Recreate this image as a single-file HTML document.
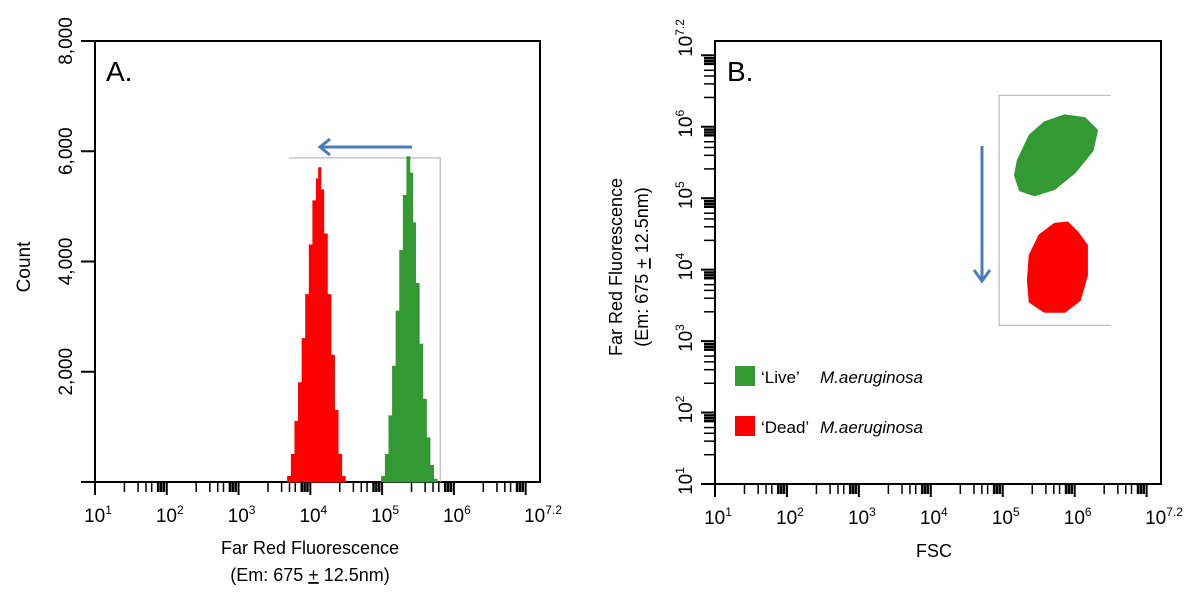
<!DOCTYPE html>
<html><head><meta charset="utf-8">
<style>
html,body{margin:0;padding:0;background:#fff;}
svg{display:block;font-family:"Liberation Sans",sans-serif;}
</style></head>
<body>
<svg id="fig" width="1200" height="598" viewBox="0 0 1200 598" xmlns="http://www.w3.org/2000/svg"></svg>
<script>
// ---- Panel A data: histogram bins (log10 fluorescence, count)
const redBins = [3.71,3.76,3.81,3.86,3.91,3.96,4.01,4.06,4.09,4.12,4.16,4.21,4.26,4.31,4.36,4.41,4.46];
const redCounts = [100,500,1100,1800,2600,3400,4300,5100,5500,5700,5300,4500,3400,2300,1300,500,100];
const greenBins = [5.02,5.07,5.12,5.17,5.22,5.27,5.32,5.36,5.40,5.44,5.49,5.54,5.59,5.64,5.69,5.74];
const greenCounts = [100,500,1200,2100,3100,4200,5200,5900,5600,4700,3600,2500,1500,800,300,50];
const countTicks = [2000,4000,6000,8000];
const countTickLabels = ["2,000","4,000","6,000","8,000"];
const decades = [1,2,3,4,5,6];
// ---- Panel B data: cloud outlines (log10 FSC, log10 fluorescence)
const liveFSC = [5.21,5.375,5.58,5.86,6.14,6.31,6.25,6.0,5.72,5.44,5.24,5.17];
const liveFL  = [5.53,5.88,6.06,6.16,6.12,5.95,5.67,5.36,5.13,5.04,5.11,5.32];
const deadFSC = [5.375,5.51,5.72,5.90,6.04,6.17,6.17,6.07,5.86,5.58,5.375,5.35];
const deadFL  = [4.20,4.48,4.64,4.66,4.52,4.34,3.92,3.57,3.41,3.41,3.55,3.85];

const NS="http://www.w3.org/2000/svg";
const svg=document.getElementById('fig');
function el(tag,attrs,parent){const e=document.createElementNS(NS,tag);for(const k in attrs)e.setAttribute(k,attrs[k]);(parent||svg).appendChild(e);return e;}

const A={l:95,r:540,t:41,b:482};
const B={l:715,r:1161,t:41,b:484};
const xA=v=>A.l+(v-1)/6.2*(A.r-A.l);
const yA=c=>A.b-c/8000*(A.b-A.t);
const xB=v=>B.l+(v-1)/6.2*(B.r-B.l);
const yB=v=>B.b-(v-1)/6.2*(B.b-B.t);
const minorOffs=[0.41,0.60,0.71,0.79,0.88,0.92,0.96];

function xTicks(P,xf,g){
  for(let d=1;d<=7;d++){
    const x=xf(d);
    let t=el('line',{x1:x,x2:x,y1:P.b,y2:P.b+13,stroke:'#000','stroke-width':2},g);
    
    minorOffs.forEach(o=>{const v=d+o;if(v<7.2){const x=xf(v);
      let t=el('line',{x1:x,x2:x,y1:P.b,y2:P.b+10,stroke:'#000','stroke-width':o>0.85?2.5:1.5},g);
      }});
  }
}
function xLabels(P,xf,g){
  decades.concat([7.2]).forEach(d=>{
    const t=el('text',{x:xf(d)+3,y:P.b+40,'font-size':19,'text-anchor':'middle',fill:'#000'},g);
    
    t.appendChild(document.createTextNode('10'));
    const s=el('tspan',{dy:-8,'font-size':12},t);s.textContent=String(d);
  });
}

// ===== Panel A =====
const gA=el('g',{});

let r=el('rect',{x:A.l,y:A.t,width:A.r-A.l,height:A.b-A.t,fill:'none',stroke:'#000','stroke-width':2},gA);

let gl=el('path',{d:`M${xA(3.7)} ${yA(5880)} H${xA(5.81)} V${A.b}`,fill:'none',stroke:'#bbb','stroke-width':1.2},gA);

function hist(bins,counts,color,name){
  const half=0.026;
  let d=`M${xA(bins[0]-half)} ${A.b}`;
  bins.forEach((b,i)=>{d+=` V${yA(counts[i])} H${xA(b+half)}`;});
  d+=` V${A.b} Z`;
  const p=el('path',{d:d,fill:color,stroke:color,'stroke-width':1},gA);
  
}
hist(redBins,redCounts,'#ff0000','dead-histogram');
hist(greenBins,greenCounts,'#339933','live-histogram');
countTicks.concat([0]).forEach(c=>{const y=yA(c);
  let t=el('line',{x1:A.l-14,x2:A.l,y1:y,y2:y,stroke:'#000','stroke-width':2},gA);
  });
countTicks.forEach((c,i)=>{const y=yA(c);
  let t=el('text',{x:0,y:0,transform:`translate(72 ${y}) rotate(-90)`,'font-size':19,'text-anchor':'middle',fill:'#000'},gA);
  t.textContent=countTickLabels[i];
  });
xTicks(A,xA,gA);xLabels(A,xA,gA);
let ct=el('text',{transform:'translate(30 267) rotate(-90)','font-size':19,'text-anchor':'middle'},gA);
ct.textContent='Count';
let xt1=el('text',{x:310,y:554,'font-size':18,'text-anchor':'middle'},gA);
xt1.textContent='Far Red Fluorescence';
let xt2=el('text',{x:310,y:581,'font-size':18,'text-anchor':'middle'},gA);
xt2.innerHTML='(Em: 675 <tspan text-decoration="underline">+</tspan> 12.5nm)';

let la=el('text',{x:106,y:81,'font-size':28},gA);
la.textContent='A.';
let ar=el('g',{stroke:'#4a7ebb','stroke-width':3,fill:'none'},gA);

el('line',{x1:412,y1:147,x2:320,y2:147},ar);
el('polyline',{points:'330,139 320,147 330,155'},ar);

// ===== Panel B =====
const gB=el('g',{});

r=el('rect',{x:B.l,y:B.t,width:B.r-B.l,height:B.b-B.t,fill:'none',stroke:'#000','stroke-width':2},gB);

gl=el('path',{d:`M${xB(6.5)} ${yB(6.44)} H${xB(4.95)} V${yB(3.22)} H${xB(6.5)}`,fill:'none',stroke:'#bbb','stroke-width':1.2},gB);

function cloud(xs,ys,color,name){
  let d='';xs.forEach((x,i)=>{d+=(i?' L':'M')+xB(x)+' '+yB(ys[i]);});d+=' Z';
  const p=el('path',{d:d,fill:color,stroke:color,'stroke-width':2,'stroke-linejoin':'round'},gB);
  
}
cloud(liveFSC,liveFL,'#339933','live-population');
cloud(deadFSC,deadFL,'#ff0000','dead-population');
xTicks(B,xB,gB);xLabels(B,xB,gB);
for(let d=1;d<=7;d++){
  const y=yB(d);let t=el('line',{x1:B.l-14,x2:B.l,y1:y,y2:y,stroke:'#000','stroke-width':2},gB);
  
  minorOffs.forEach(o=>{const v=d+o;if(v<7.2){const y=yB(v);
    let t=el('line',{x1:B.l-11,x2:B.l,y1:y,y2:y,stroke:'#000','stroke-width':o>0.85?2.5:1.5},gB);
    }});
}
decades.concat([7.2]).forEach(d=>{
  const t=el('text',{transform:`translate(692 ${yB(d)-3}) rotate(-90)`,'font-size':19,'text-anchor':'middle'},gB);
  
  t.appendChild(document.createTextNode('10'));
  const s=el('tspan',{dy:-8,'font-size':12},t);s.textContent=String(d);
});
let yt1=el('text',{transform:'translate(622 267) rotate(-90)','font-size':18,'text-anchor':'middle'},gB);
yt1.textContent='Far Red Fluorescence';
let yt2=el('text',{transform:'translate(648 267) rotate(-90)','font-size':18,'text-anchor':'middle'},gB);
yt2.innerHTML='(Em: 675 <tspan text-decoration="underline">+</tspan> 12.5nm)';

let xtb=el('text',{x:934,y:557,'font-size':18,'text-anchor':'middle'},gB);
xtb.textContent='FSC';
let lb=el('text',{x:727,y:81,'font-size':28},gB);
lb.textContent='B.';
ar=el('g',{stroke:'#4a7ebb','stroke-width':3,fill:'none'},gB);

el('line',{x1:982,y1:146,x2:982,y2:280},ar);
el('polyline',{points:'974,270 982,281 990,270'},ar);
const leg=[['#339933','\u2018Live\u2019','M.aeruginosa',383,'legend-live'],['#ff0000','\u2018Dead\u2019','M.aeruginosa',433,'legend-dead']];
leg.forEach(([c,a,b,y,n])=>{
  const g=el('g',{},gB);
  el('rect',{x:735,y:y-17,width:20,height:20,fill:c},g);
  const t=el('text',{x:761,y:y,'font-size':17},g);
  t.appendChild(document.createTextNode(a));
  const s=el('tspan',{x:a.length>6?822:820,'font-style':'italic'},t);s.textContent=b;
});
</script>
</body></html>
